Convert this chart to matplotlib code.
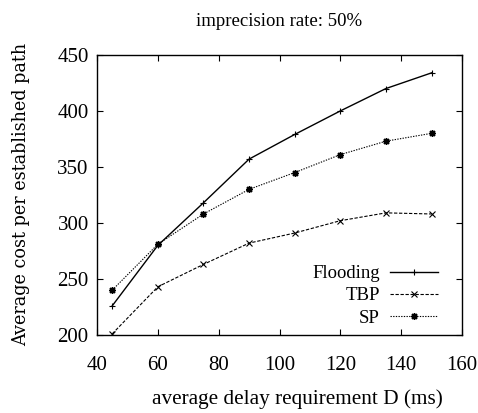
import matplotlib
matplotlib.use("Agg")
import matplotlib.pyplot as plt

plt.rcParams['font.family'] = ['Liberation Serif', 'DejaVu Serif']

delay = [45, 60, 75, 90, 105, 120, 135, 150]
flooding = [226, 280, 318, 357, 379, 400, 420, 434]
tbp = [201, 243, 263, 282, 291, 302, 309, 308]
sp = [240, 281, 308, 330, 345, 361, 373, 380]

x_ticks = [40, 60, 80, 100, 120, 140, 160]
y_ticks = [200, 250, 300, 350, 400, 450]

fig = plt.figure(figsize=(4.78, 4.13), dpi=100)
ax = fig.add_axes([0.203, 0.189, 0.7635, 0.678])

ax.plot(delay, flooding, color='black', lw=1.0, ls='-', marker='+', ms=5, mew=0.8, label='Flooding')
ax.plot(delay, tbp, color='black', lw=0.8, ls=(0, (3, 1.5)), marker='x', ms=4, mew=0.8, label='TBP')
ax.plot(delay, sp, color='black', lw=0.8, ls=(0, (1.2, 1.2)), marker=(8, 2, 0), ms=5, mew=1.0, label='SP')

ax.set_xlim(40, 160)
ax.set_ylim(200, 450)
ax.set_xticks(x_ticks)
ax.set_yticks(y_ticks)
ax.tick_params(direction='in', length=4, width=0.8, top=True, right=True, labelsize=15)
ax.tick_params(axis='x', pad=15.5)
ax.tick_params(axis='y', pad=6)
for s in ax.spines.values():
    s.set_linewidth(1.0)

ax.set_title('imprecision rate: 50%', fontsize=13.5, y=1.104, pad=0, va='baseline')
ax.set_xlabel('average delay requirement D (ms)', fontsize=15.3, va='top')
ax.xaxis.set_label_coords(0.548, -0.193)
ax.set_ylabel('Average cost per established path', fontsize=12.7, fontfamily='DejaVu Serif')
ax.yaxis.set_label_coords(-0.184, 0.5)

leg = ax.legend(loc='lower right', bbox_to_anchor=(0.934, 0.03), frameon=False,
                markerfirst=False, fontsize=13.5, handlelength=2.56, handletextpad=0.53,
                labelspacing=0.27, borderpad=0.0, borderaxespad=0.0)

fig.savefig('out.png', dpi=100)
